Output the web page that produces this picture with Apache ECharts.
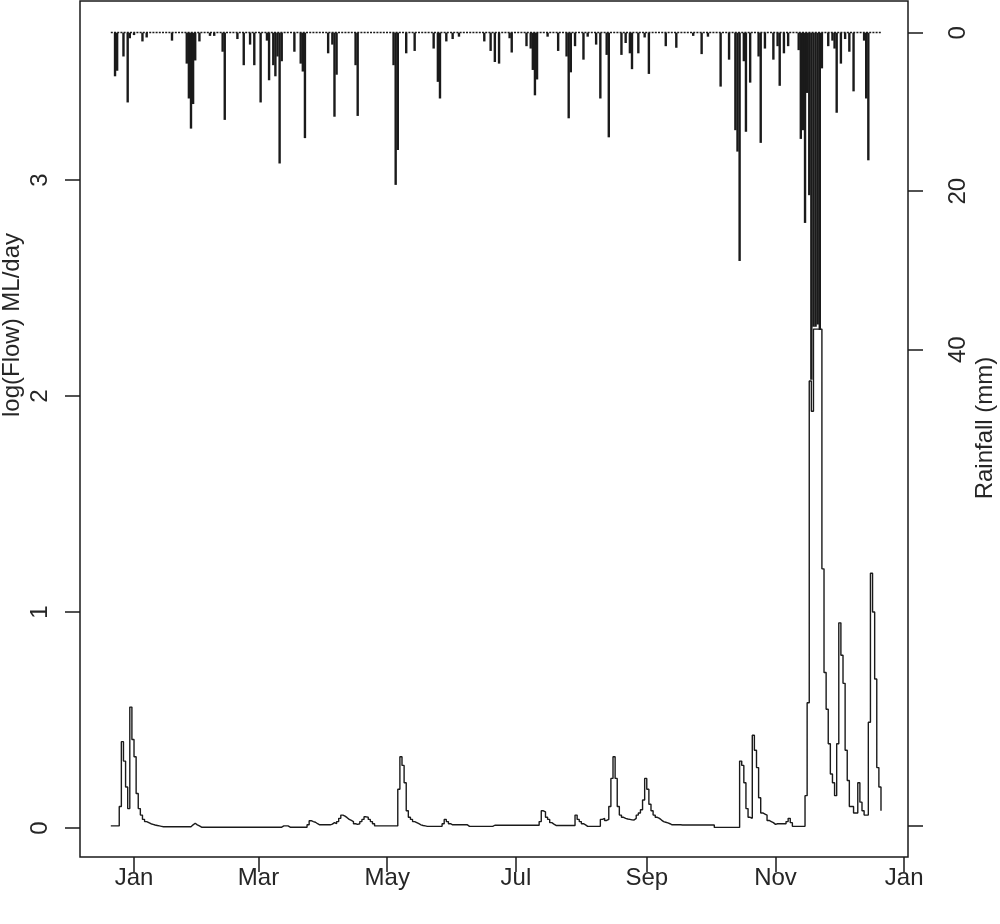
<!DOCTYPE html>
<html><head><meta charset="utf-8">
<script src="https://cdn.jsdelivr.net/npm/echarts@6/dist/echarts.min.js"></script>
<style>html,body{margin:0;padding:0;background:#fff}#c{width:1000px;height:924px}</style>
</head><body><div id="c"></div>
<script>
// day index relative to 1 January (first observation: 21 December of the previous year)
const startDay = -11;

// daily log(Flow) ML/day, one value per day from startDay onward
const flowLog = [
  0.01,0.01,0.01,0.01,0.10,0.40,0.31,0.19,0.09,0.56,   // d-11..-2
  0.41,0.33,0.16,0.09,0.06,0.04,0.03,0.025,0.02,0.017, // d-1..8
  0.014,0.012,0.01,0.008,0.006,0.006,0.006,0.006,0.006,0.006, // d9..18
  0.006,0.006,0.006,0.006,0.006,0.006,0.006,0.006,0.015,0.022, // d19..28
  0.015,0.01,0.004,0.004,0.004,0.004,0.004,0.004,0.004,0.004, // d29..38
  0.004,0.004,0.004,0.004,0.004,0.004,0.004,0.004,0.004,0.004, // d39..48
  0.004,0.004,0.004,0.004,0.004,0.004,0.004,0.004,0.004,0.004, // d49..58
  0.004,0.004,0.004,0.004,0.004,0.004,0.004,0.004,0.004,0.004, // d59..68
  0.004,0.01,0.01,0.01,0.004,0.004,0.004,0.004,0.004,0.004,   // d69..78
  0.004,0.004,0.004,0.015,0.034,0.03,0.027,0.02,0.015,0.015,  // d79..88
  0.015,0.015,0.015,0.015,0.018,0.025,0.02,0.03,0.045,0.06,   // d89..98
  0.055,0.048,0.04,0.035,0.03,0.02,0.017,0.02,0.03,0.04,      // d99..108
  0.052,0.05,0.04,0.03,0.02,0.01,0.01,0.01,0.01,0.01,         // d109..118
  0.01,0.01,0.01,0.01,0.01,0.01,0.18,0.33,0.29,0.21,          // d119..128
  0.08,0.05,0.04,0.03,0.025,0.02,0.015,0.012,0.01,0.008,      // d129..138
  0.008,0.008,0.008,0.008,0.008,0.008,0.008,0.02,0.04,0.03,   // d139..148
  0.02,0.015,0.015,0.015,0.015,0.015,0.015,0.015,0.015,0.008, // d149..158
  0.008,0.008,0.008,0.008,0.008,0.008,0.008,0.008,0.008,0.008, // d159..168
  0.008,0.013,0.013,0.013,0.013,0.013,0.013,0.013,0.013,0.013, // d169..178
  0.013,0.013,0.013,0.013,0.013,0.013,0.013,0.013,0.013,0.013, // d179..188
  0.013,0.013,0.013,0.03,0.08,0.075,0.05,0.04,0.025,0.018,    // d189..198
  0.012,0.012,0.012,0.012,0.012,0.012,0.012,0.012,0.012,0.012, // d199..208
  0.06,0.04,0.03,0.02,0.015,0.008,0.008,0.008,0.008,0.008,    // d209..218
  0.008,0.008,0.04,0.045,0.035,0.04,0.10,0.23,0.33,0.23,      // d219..228
  0.10,0.06,0.05,0.045,0.042,0.04,0.038,0.037,0.045,0.06,     // d229..238
  0.07,0.085,0.13,0.23,0.18,0.11,0.08,0.06,0.05,0.045,        // d239..248
  0.037,0.03,0.027,0.024,0.02,0.015,0.015,0.015,0.015,0.015,  // d249..258
  0.014,0.014,0.014,0.014,0.014,0.014,0.014,0.014,0.014,0.014, // d259..268
  0.014,0.014,0.014,0.014,0.014,0.014,0.003,0.003,0.003,0.003, // d269..278
  0.003,0.003,0.003,0.003,0.003,0.003,0.003,0.003,0.31,0.29,  // d279..288
  0.21,0.09,0.05,0.045,0.43,0.36,0.28,0.14,0.07,0.065,        // d289..298
  0.06,0.035,0.03,0.025,0.017,0.02,0.02,0.02,0.02,0.02,       // d299..308
  0.03,0.045,0.025,0.008,0.008,0.008,0.008,0.008,0.008,0.15,  // d309..318
  0.58,2.07,1.93,2.31,2.31,2.31,2.31,1.20,0.72,0.55,          // d319..328
  0.39,0.25,0.21,0.15,0.39,0.95,0.80,0.67,0.36,0.22,          // d329..338
  0.10,0.10,0.07,0.07,0.21,0.12,0.08,0.06,0.06,0.49,          // d339..348
  1.18,1.00,0.69,0.28,0.19,0.08                               // d349..354
];

// daily rainfall (mm), only the days with rain
const rainDays = [
  -9,-8,-5,-3,-2,0,4,6,18,25,26,27,28,29,31,36,38,42,43,49,52,55,57,60,63,64,66,67,68,69,70,
  76,79,80,81,92,94,95,96,105,106,123,124,125,129,133,142,144,145,148,151,154,166,169,171,173,
  178,179,186,188,189,190,191,196,201,205,206,207,209,213,215,219,221,224,225,231,233,235,236,
  239,242,244,252,257,265,269,272,278,282,285,286,287,289,290,292,296,297,299,303,305,306,308,
  310,315,316,317,318,319,320,321,322,323,324,325,326,329,331,332,333,335,337,339,341,346,347,348
];
const rainMm = [
  5.5,4.8,3.0,8.8,0.7,0.3,1.1,0.6,1.0,3.9,8.3,12.1,9.0,3.5,1.1,0.4,0.4,2.4,11.0,0.8,4.1,1.5,4.1,8.8,1.0,6.0,4.1,5.5,3.0,16.5,3.6,
  2.4,3.9,4.9,13.3,2.6,1.5,10.6,5.3,4.1,10.5,4.1,19.2,14.8,2.6,2.3,2.0,6.2,8.3,1.1,0.8,0.5,1.1,2.3,3.7,3.9,
  0.7,2.5,1.7,2.0,4.7,7.9,5.9,0.5,2.3,3.0,10.8,5.0,1.7,3.4,0.5,1.5,8.3,2.8,13.2,2.8,1.3,2.6,4.6,
  2.6,0.6,5.2,1.7,1.9,0.4,2.7,0.5,6.8,3.4,12.3,15.0,28.8,3.6,12.5,6.3,3.0,13.9,2.0,3.4,1.7,6.7,2.6,
  1.7,2.2,13.4,12.3,24.0,7.6,20.5,43.8,37.1,37.1,36.8,37.5,4.5,1.7,1.0,2.0,10.1,3.9,0.8,2.4,7.4,1.0,8.3,16.1
];

// axis ticks
const monthTickDays = [0, 59, 120, 181, 243, 304, 365];
const monthTickLabels = ['Jan', 'Mar', 'May', 'Jul', 'Sep', 'Nov', 'Jan'];
const flowTicks = [0, 1, 2, 3];
const rainTicks = [0, 20, 40, 100];
const rainLabelTicks = [0, 20, 40];

const FONT = '"Liberation Sans", Arial, sans-serif';
const INK = '#1a1a1a';
const TXT = '#262626';

const lastDay = startDay + flowLog.length - 1;
const flowData = flowLog.map((v, i) => [startDay + i, v]);
const rainData = rainDays.map((d, i) => [d, rainMm[i]]);

const chart = echarts.init(document.getElementById('c'), null, {renderer: 'canvas'});
chart.setOption({
  animation: false,
  backgroundColor: '#ffffff',
  grid: {left: 80, right: 92, top: 1, bottom: 67, show: true, borderColor: INK, borderWidth: 1.5, backgroundColor: 'transparent'},
  xAxis: {
    type: 'value', min: -25.6, max: 366.8,
    axisLine: {show: false, onZero: false},
    splitLine: {show: false},
    axisTick: {show: true, length: 15, lineStyle: {color: INK, width: 1.5}, customValues: monthTickDays},
    axisLabel: {customValues: monthTickDays, formatter: v => monthTickLabels[monthTickDays.indexOf(v)],
      margin: 9, fontSize: 24, color: TXT, fontFamily: FONT}
  },
  yAxis: [{
    type: 'value', position: 'left', min: -0.134, max: 3.829,
    axisLine: {show: false, onZero: false},
    splitLine: {show: false},
    axisTick: {show: true, length: 15, lineStyle: {color: INK, width: 1.5}, customValues: flowTicks},
    axisLabel: {customValues: flowTicks, rotate: 90, margin: 28, fontSize: 24, color: TXT, fontFamily: FONT}
  }, {
    type: 'value', position: 'right', inverse: true, min: -4, max: 104,
    axisLine: {show: false, onZero: false},
    splitLine: {show: false},
    axisTick: {show: true, length: 15, lineStyle: {color: INK, width: 1.5}, customValues: rainTicks},
    axisLabel: {customValues: rainLabelTicks, rotate: 90, margin: 38, fontSize: 24, color: TXT, fontFamily: FONT}
  }],
  graphic: [
    {type: 'text', x: 12, y: 325, rotation: Math.PI / 2,
      style: {text: 'log(Flow) ML/day', font: '24px ' + FONT, fill: TXT, align: 'center', verticalAlign: 'middle'}},
    {type: 'text', x: 985, y: 428, rotation: Math.PI / 2,
      style: {text: 'Rainfall (mm)', font: '24px ' + FONT, fill: TXT, align: 'center', verticalAlign: 'middle'}}
  ],
  series: [{
    name: 'Flow', type: 'line', yAxisIndex: 0, step: 'end', symbol: 'none', showSymbol: false,
    data: flowData, lineStyle: {color: INK, width: 1.4}, z: 3
  }, {
    name: 'Rainfall', type: 'bar', yAxisIndex: 1, barWidth: 2.4, data: rainData,
    itemStyle: {color: INK}, z: 2,
    markLine: {symbol: 'none', silent: true, label: {show: false}, animation: false,
      lineStyle: {type: [2, 1.2], color: INK, width: 1.3},
      data: [[{coord: [startDay, 0]}, {coord: [lastDay, 0]}]]}
  }]
});
</script>
</body></html>
